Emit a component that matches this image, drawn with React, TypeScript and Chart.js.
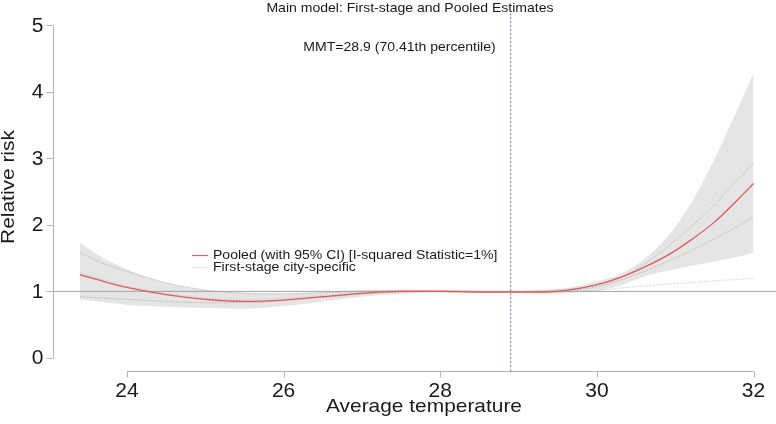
import React, { useEffect, useRef } from 'react';
import { Chart, registerables } from 'chart.js';

Chart.register(...registerables);

const FONT = '"Liberation Sans", Arial, Helvetica, sans-serif';

// Temperature grid (x) and series values (relative risk)
const temps = [23.4, 23.7, 24, 24.5, 25, 25.5, 26, 26.5, 27, 27.5, 28, 28.5, 28.9, 29.3, 29.7, 30, 30.3, 30.6, 30.9, 31.2, 31.5, 31.8, 32];
const pooled = [1.25, 1.15, 1.06, 0.95, 0.88, 0.85, 0.87, 0.92, 0.97, 1.0, 1.0, 0.99, 0.99, 0.99, 1.03, 1.1, 1.21, 1.36, 1.54, 1.77, 2.04, 2.38, 2.62];
const ciUpper = [1.73, 1.5, 1.33, 1.13, 1.02, 0.98, 0.97, 0.99, 1.02, 1.03, 1.02, 1.01, 1.0, 1.02, 1.07, 1.15, 1.26, 1.48, 1.82, 2.32, 2.98, 3.75, 4.28];
const ciLower = [0.88, 0.84, 0.8, 0.77, 0.75, 0.74, 0.78, 0.85, 0.92, 0.96, 0.98, 0.98, 0.98, 0.96, 0.98, 1.01, 1.09, 1.22, 1.31, 1.38, 1.45, 1.52, 1.58];
const cityA = [1.58, 1.42, 1.3, 1.13, 1.02, 0.97, 0.96, 0.98, 1.0, 1.01, 1.01, 1.0, 1.0, 1.01, 1.04, 1.1, 1.2, 1.4, 1.67, 1.97, 2.3, 2.68, 2.93];
const cityB = [0.92, 0.9, 0.88, 0.85, 0.83, 0.83, 0.86, 0.91, 0.96, 0.99, 1.0, 0.99, 0.99, 0.99, 1.02, 1.07, 1.17, 1.3, 1.45, 1.61, 1.79, 1.98, 2.12];
const cityC = [1.28, 1.18, 1.08, 0.97, 0.9, 0.88, 0.9, 0.94, 0.98, 1.0, 1.0, 1.0, 1.0, 0.99, 1.0, 1.02, 1.05, 1.08, 1.11, 1.13, 1.16, 1.18, 1.2];

const mmt = 28.9;
const refRR = 1;
const xTicks = [24, 26, 28, 30, 32];
const yTicks = [0, 1, 2, 3, 4, 5];
const xRange = [23.056, 32.287];
const yRange = [-0.2, 5.2];

const titleText = 'Main model: First-stage and Pooled Estimates';
const mmtText = 'MMT=28.9 (70.41th percentile)';
const legendPooled = 'Pooled (with 95% CI) [I-squared Statistic=1%]';
const legendCity = 'First-stage city-specific';
const xTitle = 'Average temperature';
const yTitle = 'Relative risk';

function stretchText(
  ctx: CanvasRenderingContext2D,
  text: string,
  x: number,
  y: number,
  size: number,
  sx: number,
  align: CanvasTextAlign,
  rotate = 0
) {
  ctx.save();
  ctx.translate(x, y);
  if (rotate) ctx.rotate(rotate);
  ctx.scale(sx, 1);
  ctx.font = `${size}px ${FONT}`;
  ctx.textAlign = align;
  ctx.textBaseline = 'middle';
  ctx.fillText(text, 0, 0);
  ctx.restore();
}

export default function App() {
  const ref = useRef<HTMLCanvasElement>(null);

  useEffect(() => {
    const pts = (ys: number[]) => temps.map((t, i) => ({ x: t, y: ys[i] }));

    const decor = {
      id: 'decor',
      afterDraw(chart: any) {
        const ctx = chart.ctx as CanvasRenderingContext2D;
        const xs = chart.scales.x;
        const ys = chart.scales.y;
        const area = chart.chartArea;
        ctx.save();
        // axes
        ctx.strokeStyle = '#b4b4b4';
        ctx.lineWidth = 1;
        const ax = Math.round(area.left) + 0.5;
        ctx.beginPath();
        ctx.moveTo(ax, ys.getPixelForValue(yTicks[0]));
        ctx.lineTo(ax, ys.getPixelForValue(yTicks[yTicks.length - 1]));
        yTicks.forEach((v) => {
          const p = Math.round(ys.getPixelForValue(v)) + 0.5;
          ctx.moveTo(ax - 7, p);
          ctx.lineTo(ax, p);
        });
        const ay = Math.round(area.bottom) + 0.5;
        ctx.moveTo(xs.getPixelForValue(xTicks[0]), ay);
        ctx.lineTo(xs.getPixelForValue(xTicks[xTicks.length - 1]), ay);
        xTicks.forEach((v) => {
          const p = Math.round(xs.getPixelForValue(v)) + 0.5;
          ctx.moveTo(p, ay);
          ctx.lineTo(p, ay + 6);
        });
        ctx.stroke();

        ctx.fillStyle = '#1a1a1a';
        // tick labels
        yTicks.forEach((v) => {
          stretchText(ctx, String(v), ax - 10, ys.getPixelForValue(v) + 1, 20, 1.05, 'right');
        });
        xTicks.forEach((v) => {
          stretchText(ctx, String(v), xs.getPixelForValue(v), ay + 20, 20, 1.05, 'center');
        });

        // axis titles
        stretchText(ctx, xTitle, 424, 407, 19, 1.1, 'center');
        stretchText(ctx, yTitle, 9, 187, 19, 1.1, 'center', -Math.PI / 2);

        // main title and MMT annotation
        stretchText(ctx, titleText, 410, 8, 13, 1.08, 'center');
        stretchText(ctx, mmtText, xs.getPixelForValue(mmt) - 15, 47, 13, 1.08, 'right');

        // legend
        stretchText(ctx, legendPooled, 213, 255, 13, 1.08, 'left');
        stretchText(ctx, legendCity, 213, 267, 13, 1.08, 'left');
        ctx.strokeStyle = 'rgb(225,95,95)';
        ctx.lineWidth = 1.2;
        ctx.beginPath();
        ctx.moveTo(192, 255.5);
        ctx.lineTo(208, 255.5);
        ctx.stroke();
        ctx.strokeStyle = 'rgb(235,200,200)';
        ctx.setLineDash([1.5, 1.5]);
        ctx.beginPath();
        ctx.moveTo(192, 267.5);
        ctx.lineTo(208, 267.5);
        ctx.stroke();
        ctx.restore();
      },
    };

    const chart = new Chart(ref.current as HTMLCanvasElement, {
      type: 'line',
      data: {
        datasets: [
          {
            label: 'MMT',
            data: [{ x: mmt, y: yRange[0] }, { x: mmt, y: yRange[1] }],
            borderColor: 'rgb(105,105,190)',
            borderWidth: 1,
            borderDash: [2, 2],
            pointRadius: 0,
            fill: false,
            order: 0,
          },
          {
            label: 'Pooled',
            data: pts(pooled),
            borderColor: 'rgb(225,90,90)',
            borderWidth: 1.3,
            pointRadius: 0,
            cubicInterpolationMode: 'monotone',
            fill: false,
            order: 1,
          },
          {
            label: 'Reference',
            data: [{ x: xRange[0] - 0.1, y: refRR }, { x: xRange[1] + 0.1, y: refRR }],
            borderColor: '#a2a2a2',
            borderWidth: 1,
            pointRadius: 0,
            fill: false,
            order: 2,
          },
          {
            label: 'City A',
            data: pts(cityA),
            borderColor: 'rgba(190,190,190,0.9)',
            borderWidth: 1,
            borderDash: [2, 1],
            pointRadius: 0,
            cubicInterpolationMode: 'monotone',
            fill: false,
            order: 3,
          },
          {
            label: 'City B',
            data: pts(cityB),
            borderColor: 'rgba(175,175,175,0.9)',
            borderWidth: 1,
            borderDash: [1.5, 1.5],
            pointRadius: 0,
            cubicInterpolationMode: 'monotone',
            fill: false,
            order: 3,
          },
          {
            label: 'City C',
            data: pts(cityC),
            borderColor: 'rgba(200,200,200,0.9)',
            borderWidth: 1,
            borderDash: [1.5, 1.5],
            pointRadius: 0,
            cubicInterpolationMode: 'monotone',
            fill: false,
            order: 3,
          },
          {
            label: 'CI upper',
            data: pts(ciUpper),
            borderColor: 'rgba(0,0,0,0)',
            borderWidth: 0,
            pointRadius: 0,
            backgroundColor: '#e5e5e5',
            cubicInterpolationMode: 'monotone',
            fill: '+1',
            order: 4,
          },
          {
            label: 'CI lower',
            data: pts(ciLower),
            borderColor: 'rgba(0,0,0,0)',
            borderWidth: 0,
            pointRadius: 0,
            cubicInterpolationMode: 'monotone',
            fill: false,
            order: 4,
          },
        ],
      },
      options: {
        responsive: false,
        animation: false,
        devicePixelRatio: 1,
        layout: { padding: { left: 53, right: 0, top: 11.7, bottom: 52.7 } },
        scales: {
          x: { type: 'linear', min: xRange[0], max: xRange[1], display: false },
          y: { type: 'linear', min: yRange[0], max: yRange[1], display: false },
        },
        plugins: {
          legend: { display: false },
          tooltip: { enabled: false },
        },
      },
      plugins: [decor],
    } as any);

    return () => chart.destroy();
  }, []);

  return (
    <div style={{ position: 'absolute', left: 0, top: 0, width: 776, height: 424, background: '#fff' }}>
      <canvas ref={ref} width={776} height={424} style={{ display: 'block', width: 776, height: 424 }} />
    </div>
  );
}
